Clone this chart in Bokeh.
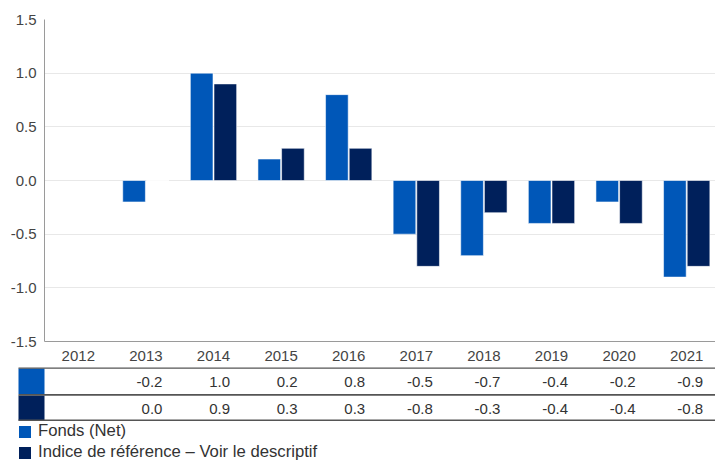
import numpy as np
from bokeh.plotting import figure
from bokeh.layouts import column
from bokeh.models import (ColumnDataSource, Range1d, FixedTicker, NumeralTickFormatter,
                          Legend, LegendItem)
from bokeh.core.properties import value
from bokeh.embed import file_html
from bokeh.resources import INLINE

# ---------------- data ----------------
years = ["2012", "2013", "2014", "2015", "2016", "2017", "2018", "2019", "2020", "2021"]
fonds = [None, -0.2, 1.0, 0.2, 0.8, -0.5, -0.7, -0.4, -0.2, -0.9]
indice = [None, 0.0, 0.9, 0.3, 0.3, -0.8, -0.3, -0.4, -0.4, -0.8]
series_names = ["Fonds (Net)", "Indice de référence – Voir le descriptif"]
series_colors = ["#0057b8", "#00205b"]
y_ticks = [-1.5, -1.0, -0.5, 0.0, 0.5, 1.0, 1.5]

FONT = "Liberation Sans"
BAND = 67.6          # px per category
LEFT = 44            # frame left in px
W = 715
H1 = 367
H2 = 460 - H1

def nan(v):
    return float("nan") if v is None else v

def lab(v):
    return "" if v is None else f"{v:.1f}"

pos = np.arange(len(years)) + 0.5
x_end = (W - LEFT) / BAND

# ---------------- chart ----------------
p = figure(width=W, height=H1, x_range=Range1d(0, x_end), y_range=Range1d(-1.5, 1.5),
           output_backend="svg", toolbar_location=None,
           min_border_left=LEFT, min_border_right=0, min_border_top=19, min_border_bottom=H1 - 341)
p.frame_align = False
p.outline_line_color = None
p.background_fill_color = "white"
p.border_fill_color = "white"

src = ColumnDataSource(dict(
    xf=pos - 0.175, xi=pos + 0.175,
    fonds=[nan(v) for v in fonds], indice=[nan(v) for v in indice]))
p.vbar(x="xf", top="fonds", bottom=0, width=0.335, source=src,
       fill_color=series_colors[0], line_color="white", line_alpha=0.55, line_width=1)
p.vbar(x="xi", top="indice", bottom=0, width=0.335, source=src,
       fill_color=series_colors[1], line_color="white", line_alpha=0.55, line_width=1)

p.xgrid.visible = False
p.ygrid.grid_line_color = "#e8e8e8"
p.ygrid.ticker = FixedTicker(ticks=y_ticks)

p.yaxis.ticker = FixedTicker(ticks=y_ticks)
p.yaxis.formatter = NumeralTickFormatter(format="0.0")
p.xaxis.ticker = FixedTicker(ticks=list(pos))
p.xaxis.major_label_overrides = {float(x): y for x, y in zip(pos, years)}
for ax in (p.xaxis, p.yaxis):
    ax.axis_line_color = "#9a9a9a"
    ax.major_tick_line_color = None
    ax.minor_tick_line_color = None
    ax.major_tick_out = 0
    ax.major_tick_in = 0
    ax.minor_tick_out = 0
    ax.minor_tick_in = 0
    ax.major_label_text_font = FONT
    ax.major_label_text_font_size = "15px"
    ax.major_label_text_color = "#444444"
p.yaxis.major_label_standoff = 8
p.xaxis.major_label_standoff = 9

# ---------------- table + legend ----------------
t = figure(width=W, height=H2, x_range=Range1d(-LEFT / BAND, x_end), y_range=Range1d(H2, 0),
           output_backend="svg", toolbar_location=None, min_border=0,
           min_border_left=0, min_border_right=0, min_border_top=0, min_border_bottom=0,
           x_axis_location=None, y_axis_location=None)
t.frame_align = False
t.outline_line_color = None
t.grid.visible = False
t.border_fill_color = "white"

sw_left = -26 / BAND
rows_top = [1.0, 28.0]
rows_bot = [26.4, 53.0]
sw_renderers = []
for i in range(2):
    r = t.quad(left=[sw_left], right=[0], top=[rows_top[i]], bottom=[rows_bot[i]],
               fill_color=series_colors[i], line_color=None)
    sw_renderers.append(r)

t.segment(x0=[sw_left] * 3, x1=[x_end] * 3, y0=[0.4, 27.4, 52.8], y1=[0.4, 27.4, 52.8],
          line_color="#555555", line_width=1.6)

tsrc = ColumnDataSource(dict(
    x=list(pos + 0.244) * 2,
    y=[14.7] * len(years) + [41.0] * len(years),
    txt=[lab(v) for v in fonds] + [lab(v) for v in indice]))
t.text(x="x", y="y", text="txt", source=tsrc, text_align="right", text_baseline="middle",
       text_font=value(FONT), text_font_size="15px", text_color="#333333")

legend = Legend(items=[LegendItem(label=series_names[i], renderers=[sw_renderers[i]])
                       for i in range(2)],
                location=(17, -2), padding=0, margin=0, spacing=1,
                glyph_width=15, glyph_height=15, label_standoff=6,
                label_text_font=FONT, label_text_font_size="16.7px",
                label_text_color="#333333",
                border_line_color=None, background_fill_alpha=0)
t.add_layout(legend)

layout = column(p, t, spacing=0)
open("out.html", "w").write(file_html(layout, INLINE))
